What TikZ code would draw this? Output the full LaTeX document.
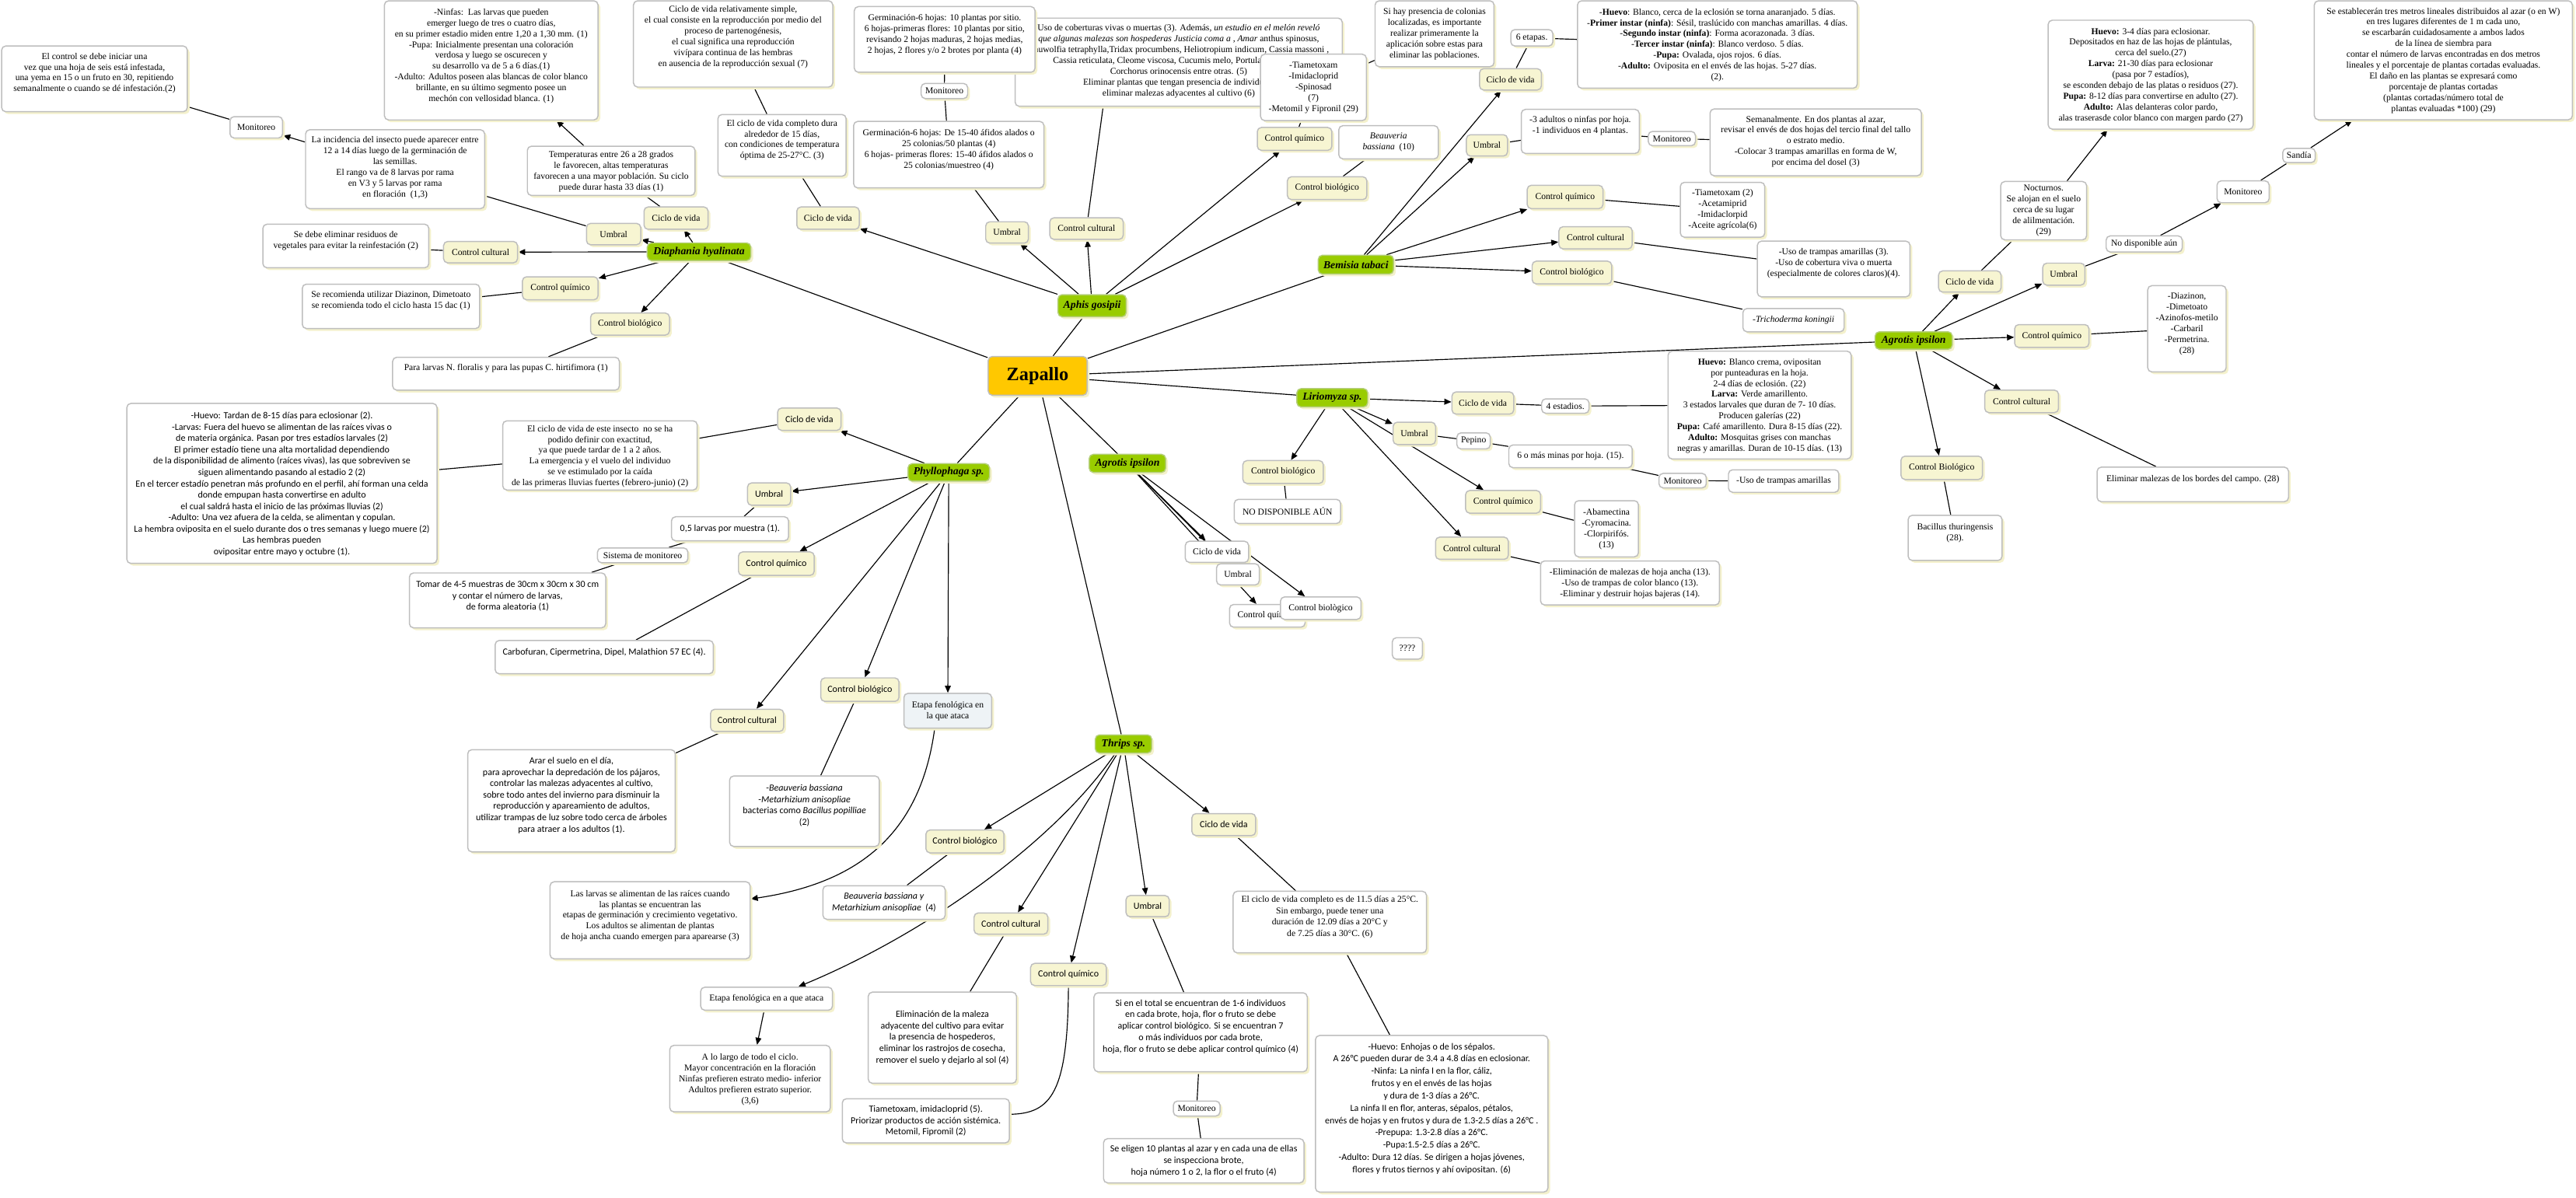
\documentclass[tikz,border=0pt]{standalone}
\usepackage{fontspec}
\setmainfont{Liberation Serif}
\setsansfont{Carlito}
\usetikzlibrary{fit,shadows,arrows.meta,backgrounds}
\definecolor{yelc}{HTML}{F7F5D2}
\definecolor{bordc}{HTML}{BEBEBE}
\definecolor{shadc}{HTML}{F4F1CC}
\definecolor{grnc}{HTML}{99CC00}
\definecolor{grnb}{HTML}{B5CF7A}
\definecolor{zapc}{HTML}{FFC800}
\definecolor{etac}{HTML}{EEF3F6}
\tikzset{
  lnk/.style={draw=black, line width=0.55pt},
  arw/.style={lnk, -{Triangle[length=4.3pt,width=3.6pt]}},
  boxbase/.style={rounded corners=2.5pt, draw=bordc, line width=0.7pt, inner sep=0pt,
     general shadow={fill=shadc, shadow xshift=1.4pt, shadow yshift=-1.4pt}},
  ybox/.style={boxbase, fill=yelc},
  wbox/.style={boxbase, fill=white},
  gbox/.style={boxbase, fill=grnc, draw=grnb},
  zbox/.style={boxbase, fill=zapc},
  ebox/.style={boxbase, fill=etac},
  ser/.style={font=\fontsize{5.5}{6.6}\selectfont},
  ser7/.style={font=\fontsize{5.5}{7.0}\selectfont},
  san/.style={font=\sffamily\fontsize{5.7}{6.9}\selectfont},
  san7/.style={font=\sffamily\fontsize{5.7}{7.0}\selectfont},
  san75/.style={font=\sffamily\fontsize{5.7}{7.5}\selectfont},
  gtxt/.style={font=\bfseries\itshape\fontsize{6.5}{7.5}\selectfont},
  zfont/.style={font=\bfseries\fontsize{11.5}{13}\selectfont},
}
\newcommand\TB[9][4]{%
  \node[#7, fit={(#3,#4)(#5,#6)}] (#2) {};
  \node[#8, anchor=north, align=center, inner sep=0pt] (#2t) at ({(#3+#5)/2},{#4+#1}) {#9};
}
\newcommand\CB[8]{%
  \node[#6, fit={(#2,#3)(#4,#5)}] (#1) {};
  \node[#7, align=center, inner sep=0pt] (#1t) at (#1.center) {#8};
}
\begin{document}
\begin{tikzpicture}[x=1pt,y=-1pt]
\useasboundingbox (0,0) rectangle (1568,729);
% ---------- central and species ----------
\CB{zap}{601.5}{217}{661.7}{240.6}{zbox}{zfont}{Zapallo}
\CB{dia}{394}{147.9}{457}{158.6}{gbox}{gtxt}{Diaphania hyalinata}
\CB{aph}{644}{179.4}{685.5}{192.8}{gbox}{gtxt}{Aphis gosipii}
\CB{bem}{802.4}{155.4}{848.2}{166.8}{gbox}{gtxt}{Bemisia tabaci}
\CB{agr}{1141.4}{202}{1188.3}{212.6}{gbox}{gtxt}{Agrotis ipsilon}
\CB{lir}{789.4}{236.6}{832.5}{247.7}{gbox}{gtxt}{Liriomyza sp.}
\CB{agm}{663}{276.6}{709.5}{287.6}{gbox}{gtxt}{Agrotis ipsilon}
\CB{phy}{552.7}{282.3}{602.3}{292.9}{gbox}{gtxt}{Phyllophaga sp.}
\CB{thr}{666.7}{447.4}{701}{458.4}{gbox}{gtxt}{Thrips sp.}
% ---------- Diaphania ----------
\TB{dEl}{1}{28}{114}{68}{wbox}{ser}{El control se debe iniciar una\\vez que una hoja de seis está infestada,\\una yema en 15 o un fruto en 30, repitiendo\\semanalmente o cuando se dé infestación.(2)}
\CB{dMon}{140}{71}{172}{84}{wbox}{ser}{Monitoreo}
\TB{dInc}{186}{79}{295}{127}{wbox}{ser}{La incidencia del insecto puede aparecer entre\\12 a 14 días luego de la germinación de\\las semillas.\\El rango va de 8 larvas por rama\\en V3 y 5 larvas por rama\\en floración~~(1,3)}
\CB{dUmb}{357}{136}{390}{149}{ybox}{ser}{Umbral}
\TB[4.5]{dNin}{234}{0.5}{364}{73}{wbox}{ser}{-Ninfas:~~Las larvas que pueden\\emerger luego de tres o cuatro días,\\en su primer estadio miden entre 1,20 a 1,30 mm. (1)\\-Pupa: Inicialmente presentan una coloración\\verdosa y luego se oscurecen y\\su desarrollo va de 5 a 6 días.(1)\\-Adulto: Adultos poseen alas blancas de color blanco\\brillante, en su último segmento posee un\\mechón con vellosidad blanca. (1)}
\TB[3]{dTem}{321}{89}{423}{119}{wbox}{ser}{Temperaturas entre 26 a 28 grados\\le favorecen, altas temperaturas\\favorecen a una mayor población. Su ciclo\\puede durar hasta 33 días (1)}
\CB{dCic}{392}{126}{431}{139.6}{ybox}{ser}{Ciclo de vida}
\TB{dRes}{160}{136.5}{261}{163}{wbox}{ser}{Se debe eliminar residuos de\\vegetales para evitar la reinfestación (2)}
\CB{dCC}{270}{147}{315}{160}{ybox}{ser}{Control cultural}
\CB{dCQ}{318}{168.5}{364}{182.5}{ybox}{ser}{Control químico}
\TB{dDia}{184}{173}{292}{200}{wbox}{ser}{Se recomienda utilizar Diazinon, Dimetoato\\se recomienda todo el ciclo hasta 15 dac (1)}
\CB{dCB}{359.5}{190.6}{407.5}{204}{ybox}{ser}{Control biológico}
\TB{dPar}{239}{217.5}{377}{237.5}{wbox}{ser}{Para larvas N. floralis y para las pupas C. hirtifimora (1)}
% ---------- Aphis ----------
\TB[3]{aRel}{385.6}{0.5}{506.9}{53}{wbox}{ser}{Ciclo de vida relativamente simple,\\el cual consiste en la reproducción por medio del\\proceso de partenogénesis,\\el cual significa una reproducción\\vivípara continua de las hembras\\en ausencia de la reproducción sexual (7)}
\TB[3]{aCom}{437}{69.7}{515}{107.3}{wbox}{ser}{El ciclo de vida completo dura\\alrededor de 15 días,\\con condiciones de temperatura\\óptima de 25-27°C. (3)}
\CB{aCic}{485}{126}{523}{139.6}{ybox}{ser}{Ciclo de vida}
\TB[3.8]{aUso}{617.9}{11}{817}{64.7}{wbox}{ser}{Uso de coberturas vivas o muertas (3). Además, \textit{un estudio en el melón reveló}\\\textit{que algunas malezas son hospederas Justicia coma a} , \textit{Amar} anthus spinosus,\\Rauwolfia tetraphylla,Tridax procumbens, Heliotropium indicum, Cassia massoni ,\\Cassia reticulata, Cleome viscosa, Cucumis melo, Portulaca oleracea,\\Corchorus orinocensis entre otras. (5)\\Eliminar plantas que tengan presencia de individuos,\\eliminar malezas adyacentes al cultivo (6)}
\TB[4.5]{aGt}{520}{4}{630}{44}{wbox}{ser}{Germinación-6 hojas: 10 plantas por sitio.\\6 hojas-primeras flores: 10 plantas por sitio,\\revisando 2 hojas maduras, 2 hojas medias,\\2 hojas, 2 flores y/o 2 brotes por planta (4)}
\CB{aMon}{560.7}{50.8}{589}{60}{wbox}{ser}{Monitoreo}
\TB[4.5]{aGl}{519.6}{73.9}{635.4}{114.4}{wbox}{ser}{Germinación-6 hojas: De 15-40 áfidos alados o\\25 colonias/50 plantas (4)\\6 hojas- primeras flores: 15-40 áfidos alados o\\25 colonias/muestreo (4)}
\CB{aUmb}{600}{135}{626}{148}{ybox}{ser}{Umbral}
\CB{aCC}{639}{132.6}{683.7}{145.7}{ybox}{ser}{Control cultural}
\TB[4.5]{aTia}{767.3}{33}{831.7}{73.4}{wbox}{ser}{-Tiametoxam\\-Imidacloprid\\-Spinosad\\(7)\\-Metomil y Fipronil (29)}
\CB{aCQ}{765.3}{77.6}{810.7}{91.5}{ybox}{ser}{Control químico}
\TB[4]{aBea}{814.9}{76.5}{875.5}{96.7}{wbox}{ser}{\textit{Beauveria}\\\textit{bassiana}~~(10)}
\CB{aCB}{783.6}{107.6}{832}{121.5}{ybox}{ser}{Control biológico}
\TB[4.2]{aSi}{837}{0.5}{909.4}{40.6}{wbox}{ser}{Si hay presencia de colonias\\localizadas, es importante\\realizar primeramente la\\aplicación sobre estas para\\eliminar las poblaciones.}
% ---------- Bemisia ----------
\CB{bCic}{900.6}{41.8}{938.2}{54.8}{ybox}{ser}{Ciclo de vida}
\CB{b6}{919.6}{18}{945.2}{28}{wbox}{ser}{6 etapas.}
\TB[4.5]{bHue}{960.2}{0.5}{1130.5}{53.7}{wbox}{ser}{-\textbf{Huevo}: Blanco, cerca de la eclosión se torna anaranjado. 5 días.\\-\textbf{Primer instar (ninfa)}: Sésil, traslúcido con manchas amarillas. 4 días.\\-\textbf{Segundo instar (ninfa)}: Forma acorazonada. 3 días.\\-\textbf{Tercer instar (ninfa)}: Blanco verdoso. 5 días.\\-\textbf{Pupa:} Ovalada, ojos rojos. 6 días.\\-\textbf{Adulto:} Oviposita en el envés de las hojas. 5-27 días.\\(2).}
\CB{bUmb}{892.6}{82}{917.6}{95}{ybox}{ser}{Umbral}
\TB[4]{b3a}{926}{66.6}{997.8}{93.4}{wbox}{ser}{-3 adultos o ninfas por hoja.\\-1 individuos en 4 plantas.}
\CB{bMon}{1003.3}{80}{1032}{88.7}{wbox}{ser}{Monitoreo}
\TB[4]{bSem}{1040.9}{66.3}{1169.5}{107}{wbox}{ser}{Semanalmente. En dos plantas al azar,\\revisar el envés de dos hojas del tercio final del tallo\\o estrato medio.\\-Colocar 3 trampas amarillas en forma de W,\\por encima del dosel (3)}
\CB{bCQ}{929.6}{112.8}{975.7}{127}{ybox}{ser}{Control químico}
\TB[4]{bTia}{1022.8}{111}{1074.2}{144.4}{wbox}{ser}{-Tiametoxam (2)\\-Acetamiprid\\-Imidaclorpid\\-Aceite agrícola(6)}
\CB{bCC}{948.9}{138}{993.5}{151.5}{ybox}{ser}{Control cultural}
\TB[4]{bUso}{1069.7}{146.8}{1162.6}{180.7}{wbox}{ser}{-Uso de trampas amarillas (3).\\-Uso de cobertura viva o muerta\\(especialmente de colores claros)(4).}
\CB{bCB}{932.6}{159}{981}{172.8}{ybox}{ser}{Control biológico}
\CB{bTri}{1060.9}{187.8}{1122.5}{202}{wbox}{ser}{-\textit{Trichoderma koningii}}
% ---------- Agrotis (right) ----------
\TB[4.5]{rHue}{1246.7}{12.3}{1371.5}{78.6}{wbox}{ser}{\textbf{Huevo:} 3-4 días para eclosionar.\\Depositados en haz de las hojas de plántulas,\\cerca del suelo.(27)\\\textbf{Larva:} 21-30 días para eclosionar\\(pasa por 7 estadíos),\\se esconden debajo de las platas o residuos (27).\\\textbf{Pupa:} 8-12 días para convertirse en adulto (27).\\\textbf{Adulto:} Alas delanteras color pardo,\\alas traserasde color blanco con margen pardo (27)}
\TB[1.8]{rNoc}{1217.8}{110.5}{1270.1}{146}{wbox}{ser}{Nocturnos.\\Se alojan en el suelo\\cerca de su lugar\\de alilmentación.\\(29)}
\CB{rCic}{1180}{164.9}{1218}{177.8}{ybox}{ser}{Ciclo de vida}
\CB{rUmb}{1243.4}{160.2}{1269}{173.6}{ybox}{ser}{Umbral}
\CB{rNo}{1282}{143.6}{1328.3}{153.4}{wbox}{ser}{No disponible aún}
\CB{rMon}{1349.5}{110.1}{1381.2}{123.4}{wbox}{ser}{Monitoreo}
\CB{rSan}{1389.5}{90.3}{1409.3}{99}{wbox}{ser}{Sandía}
\TB[4]{rSe}{1408.7}{0.5}{1565.8}{72.9}{wbox}{ser}{Se establecerán tres metros lineales distribuidos al azar (o en W)\\en tres lugares diferentes de 1 m cada uno,\\se escarbarán cuidadosamente a ambos lados\\de la línea de siembra para\\contar el número de larvas encontradas en dos metros\\lineales y el porcentaje de plantas cortadas evaluadas.\\El daño en las plantas se expresará como\\porcentaje de plantas cortadas\\(plantas cortadas/número total de\\plantas evaluadas *100) (29)}
\CB{rCQ}{1226.3}{197.6}{1271.5}{211.5}{ybox}{ser}{Control químico}
\TB[4.2]{rDia}{1307.3}{173.9}{1355}{226.4}{wbox}{ser}{-Diazinon,\\-Dimetoato\\-Azinofos-metilo\\-Carbaril\\-Permetrina.\\(28)}
\CB{rCC}{1208.1}{237.5}{1253}{251.2}{ybox}{ser}{Control cultural}
\TB[5]{rEli}{1276.5}{284.4}{1393}{305.4}{wbox}{ser}{Eliminar malezas de los bordes del campo. (28)}
\CB{rCB}{1157.1}{277.7}{1206.7}{291.9}{ybox}{ser}{Control Biológico}
\TB[5]{rBac}{1161.5}{313.7}{1218.6}{341.2}{wbox}{ser}{Bacillus thuringensis\\(28).}
% ---------- Liriomyza ----------
\TB[4.2]{lHue}{1015.3}{213.8}{1126.8}{279.4}{wbox}{ser}{\textbf{Huevo:} Blanco crema, ovipositan\\por punteaduras en la hoja.\\2-4 días de eclosión. (22)\\\textbf{Larva:} Verde amarillento.\\3 estados larvales que duran de 7- 10 días.\\Producen galerías (22)\\\textbf{Pupa:} Café amarillento. Dura 8-15 días (22).\\\textbf{Adulto:} Mosquitas grises con manchas\\negras y amarillas. Duran de 10-15 días. (13)}
\CB{lCic}{883.8}{238.6}{921.4}{252.1}{ybox}{ser}{Ciclo de vida}
\CB{l4}{938.4}{242.8}{967.2}{251.6}{wbox}{ser}{4 estadios.}
\CB{lUmb}{848}{257}{873.8}{270.6}{ybox}{ser}{Umbral}
\CB{lPep}{886.8}{263.5}{907.1}{273.3}{wbox}{ser}{Pepino}
\CB{l6}{918.4}{270.9}{993.5}{284.7}{wbox}{ser}{6 o más minas por hoja. (15).}
\CB{lMon}{1009.8}{288.2}{1038.6}{297}{wbox}{ser}{Monitoreo}
\CB{lUso}{1052.1}{286}{1119.3}{299.7}{wbox}{ser}{-Uso de trampas amarillas}
\CB{lCQ}{892.1}{298.6}{937.7}{312.4}{ybox}{ser}{Control químico}
\TB[4.7]{lAba}{958.4}{304.8}{997.3}{339}{wbox}{ser}{-Abamectina\\-Cyromacina.\\-Clorpirifós.\\(13)}
\CB{lCC}{873.8}{327}{918.1}{340.5}{ybox}{ser}{Control cultural}
\TB[4.4]{lEli}{937.7}{341.5}{1046.6}{368.3}{wbox}{ser}{-Eliminación de malezas de hoja ancha (13).\\-Uso de trampas de color blanco (13).\\-Eliminar y destruir hojas bajeras (14).}
\CB{lCB}{756.5}{280.4}{805.5}{294.3}{ybox}{ser}{Control biológico}
\CB{lNo}{751.3}{304}{816}{318.7}{wbox}{ser}{NO DISPONIBLE AÚN}
% ---------- Agrotis (middle) ----------
\CB{mCic}{721.5}{329.5}{760}{342.4}{wbox}{ser}{Ciclo de vida}
\CB{mUmb}{740.5}{343.2}{766.5}{356.1}{wbox}{ser}{Umbral}
\CB{mCQ}{748.4}{368}{794.4}{381.8}{wbox}{ser}{Control químico}
\CB{mCB}{779.4}{363.4}{828.4}{377.1}{wbox}{ser}{Control biològico}
\CB{q}{847.5}{388.2}{865.8}{401.3}{wbox}{ser}{????}
% ---------- Phyllophaga ----------
\TB[4.9]{pHue}{77.2}{245.6}{266}{343}{wbox}{san}{-Huevo: Tardan de 8-15 días para eclosionar (2).\\-Larvas: Fuera del huevo se alimentan de las raíces vivas o\\de materia orgánica. Pasan por tres estadíos larvales (2)\\El primer estadío tiene una alta mortalidad dependiendo\\de la disponibilidad de alimento (raíces vivas), las que sobreviven se\\siguen alimentando pasando al estadio 2 (2)\\En el tercer estadío penetran más profundo en el perfil, ahí forman una celda\\donde empupan hasta convertirse en adulto\\el cual saldrá hasta el inicio de las próximas lluvias (2)\\-Adulto: Una vez afuera de la celda, se alimentan y copulan.\\La hembra oviposita en el suelo durante dos o tres semanas y luego muere (2)\\Las hembras pueden\\ovipositar entre mayo y octubre (1).}
\TB[2.5]{pEl}{306}{256.2}{424.4}{298.3}{wbox}{ser}{El ciclo de vida de este insecto~~no se ha\\podido definir con exactitud,\\ya que puede tardar de 1 a 2 años.\\La emergencia y el vuelo del individuo\\se ve estimulado por la caída\\de las primeras lluvias fuertes (febrero-junio) (2)}
\CB{pCic}{473.3}{248.4}{511.9}{262}{ybox}{san}{Ciclo de vida}
\CB{pUmb}{455}{294}{481.3}{307.6}{ybox}{san}{Umbral}
\CB{p05}{408.7}{314.6}{480}{329.2}{wbox}{san}{0,5 larvas por muestra (1).}
\CB{pSis}{363.7}{333.6}{418.7}{342.6}{wbox}{ser}{Sistema de monitoreo}
\TB[4.7]{pTom}{249.2}{348.8}{368.7}{382.2}{wbox}{san}{Tomar de 4-5 muestras de 30cm x 30cm x 30 cm\\y contar el número de larvas,\\de forma aleatoria (1)}
\CB{pCQ}{449.5}{336}{495.6}{350.3}{ybox}{san}{Control químico}
\TB[4.7]{pCar}{301.4}{389.9}{434.2}{410.2}{wbox}{san}{Carbofuran, Cipermetrina, Dipel, Malathion 57 EC (4).}
\CB{pCC}{432.5}{431.8}{477}{445.3}{ybox}{san}{Control cultural}
\TB[4.5]{pArar}{284.7}{456.4}{411}{518.6}{wbox}{san}{Arar el suelo en el día,\\para aprovechar la depredación de los pájaros,\\controlar las malezas adyacentes al cultivo,\\sobre todo antes del invierno para disminuir la\\reproducción y apareamiento de adultos,\\utilizar trampas de luz sobre todo cerca de árboles\\para atraer a los adultos (1).}
\CB{pCB}{499.6}{412.7}{547.2}{427}{ybox}{san}{Control biológico}
\TB[5]{pBea}{444.1}{472.4}{535.2}{515.3}{wbox}{san}{-\textit{Beauveria bassiana}\\-\textit{Metarhizium anisopliae}\\bacterias como \textit{Bacillus popilliae}\\(2)}
\CB{pEta}{550.2}{422.1}{603.6}{443.3}{ebox}{ser}{Etapa fenológica en\\la que ataca}
\TB[4.9]{pLas}{334.8}{536.8}{456.6}{583.7}{wbox}{ser}{Las larvas se alimentan de las raíces cuando\\las plantas se encuentran las\\etapas de germinación y crecimiento vegetativo.\\Los adultos se alimentan de plantas\\de hoja ancha cuando emergen para aparearse (3)}
% ---------- Thrips ----------
\CB{tCB}{563.6}{505.3}{611.1}{519.2}{ybox}{san}{Control biológico}
\CB{tBea}{500.9}{539.2}{575.3}{559.7}{wbox}{san}{\textit{Beauveria bassiana y}\\\textit{Metarhizium anisopliae}~~(4)}
\CB{tEta}{426.5}{601}{506.7}{615}{wbox}{ser}{Etapa fenológica en a que ataca}
\TB[5]{tAlo}{407.7}{636.4}{505.4}{676.9}{wbox}{ser}{A lo largo de todo el ciclo.\\Mayor concentración en la floración\\Ninfas prefieren estrato medio- inferior\\Adultos prefieren estrato superior.\\(3,6)}
\CB{tCC}{592.9}{555.8}{637.8}{568.7}{ybox}{san}{Control cultural}
\CB{tEli}{528.5}{604}{618.7}{659.5}{wbox}{san}{Eliminación de la maleza\\adyacente del cultivo para evitar\\la presencia de hospederos,\\eliminar los rastrojos de cosecha,\\remover el suelo y dejarlo al sol (4)}
\CB{tCQ}{627.3}{586.5}{673.4}{600}{ybox}{san}{Control químico}
\CB{tTia}{512.7}{668.9}{614.4}{695.8}{wbox}{san}{Tiametoxam, imidacloprid (5).\\Priorizar productos de acción sistémica.\\Metomil, Fipromil (2)}
\CB{tUmb}{685.4}{545.2}{711.7}{558.1}{ybox}{san}{Umbral}
\TB[3.9]{tSi}{665.9}{604.4}{795.7}{652.5}{wbox}{san7}{Si en el total se encuentran de 1-6 individuos\\en cada brote, hoja, flor o fruto se debe\\aplicar control biológico. Si se encuentran 7\\o más individuos por cada brote,\\hoja, flor o fruto se debe aplicar control químico (4)}
\CB{tMon}{714.2}{670.3}{742.6}{679.4}{wbox}{ser}{Monitoreo}
\TB[3.9]{tSe}{671.7}{693.2}{793.7}{720.1}{wbox}{san7}{Se eligen 10 plantas al azar y en cada una de ellas\\se inspecciona brote,\\hoja número 1 o 2, la flor o el fruto (4)}
\CB{tCic}{725.5}{495.3}{764.3}{508.7}{ybox}{san}{Ciclo de vida}
\TB[2.5]{tElc}{750.6}{542.6}{868.3}{580.1}{wbox}{ser7}{El ciclo de vida completo es de 11.5 días a 25°C.\\Sin embargo, puede tener una\\duración de 12.09 días a 20°C y\\de 7.25 días a 30°C. (6)}
\TB[4.4]{tHue}{800.7}{630.4}{942.2}{725.7}{wbox}{san75}{-Huevo: Enhojas o de los sépalos.\\A 26°C pueden durar de 3.4 a 4.8 días en eclosionar.\\-Ninfa: La ninfa I en la flor, cáliz,\\frutos y en el envés de las hojas\\y dura de 1-3 días a 26°C.\\La ninfa II en flor, anteras, sépalos, pétalos,\\envés de hojas y en frutos y dura de 1.3-2.5 días a 26°C .\\-Prepupa: 1.3-2.8 días a 26°C.\\-Pupa:1.5-2.5 días a 26°C.\\-Adulto: Dura 12 días. Se dirigen a hojas jóvenes,\\flores y frutos tiernos y ahí ovipositan. (6)}
% ---------- connectors ----------
\begin{scope}[on background layer]
\fill[white] (0,0) rectangle (1568,729);
\foreach \s in {dia,aph,bem,agr,lir,agm,phy,thr} \draw[lnk] (zap) -- (\s);
% Diaphania
\foreach \t in {dUmb,dCic,dCC,dCQ,dCB} \draw[arw] (dia) -- (\t);
\draw[lnk] (dEl) -- (dMon);
\draw[arw] (dInc) -- (dMon);
\draw[lnk] (dInc) -- (dUmb);
\draw[arw] (dTem) -- (dNin);
\draw[lnk] (dTem) -- (dCic);
\draw[lnk] (dRes) -- (dCC);
\draw[lnk] (dDia) -- (dCQ);
\draw[lnk] (dCB) -- (dPar);
% Aphis
\foreach \t in {aCic,aUmb,aCC,aCQ,aCB} \draw[arw] (aph) -- (\t);
\draw[lnk] (aRel) -- (aCom);
\draw[lnk] (aCom) -- (aCic);
\draw[lnk] (aGt) -- (aMon);
\draw[lnk] (aMon) -- (aGl);
\draw[lnk] (aGl) -- (aUmb);
\draw[lnk] (aCC) -- ([xshift=-46pt]aUso.south);
\draw[lnk] (aCQ) -- (aTia);
\draw[lnk] (aTia) -- (aSi);
\draw[lnk] (aCB) -- (aBea);
% Bemisia
\foreach \t in {bCic,bUmb,bCQ,bCC,bCB} \draw[arw] (bem) -- (\t);
\draw[lnk] (bCic) -- (b6);
\draw[lnk] (b6) -- (bHue);
\draw[lnk] (bUmb) -- (b3a);
\draw[lnk] (b3a) -- (bMon);
\draw[lnk] (bMon) -- (bSem);
\draw[lnk] (bCQ) -- (bTia);
\draw[lnk] (bCC) -- (bUso);
\draw[lnk] (bCB) -- (bTri);
% Agrotis right
\foreach \t in {rCic,rUmb,rCQ,rCC,rCB} \draw[arw] (agr) -- (\t);
\draw[lnk] (rCic) -- (rNoc);
\draw[arw] (rNoc) -- (rHue);
\draw[lnk] (rUmb) -- (rNo);
\draw[arw] (rNo) -- (rMon);
\draw[lnk] (rMon) -- (rSan);
\draw[arw] (rSan) -- (rSe);
\draw[lnk] (rCQ) -- (rDia);
\draw[lnk] (rCC) -- (rEli);
\draw[lnk] (rCB) -- (rBac);
% Liriomyza
\foreach \t in {lCic,lUmb,lCQ,lCC,lCB} \draw[arw] (lir) -- (\t);
\draw[lnk] (lCic) -- (l4);
\draw[lnk] (l4) -- (lHue);
\draw[lnk] (lUmb) -- (lPep);
\draw[lnk] (lPep) -- (l6);
\draw[lnk] (l6) -- (lMon);
\draw[lnk] (lMon) -- (lUso);
\draw[lnk] (lCQ) -- (lAba);
\draw[lnk] (lCC) -- (lEli);
\draw[lnk] (lCB) -- (lNo);
% Agrotis middle
\foreach \t in {mCic,mUmb,mCQ,mCB} \draw[arw] (agm) -- (\t);
% Phyllophaga
\foreach \t in {pCic,pUmb,pCQ,pCC,pCB,pEta} \draw[arw] (phy) -- (\t);
\draw[lnk] (pHue) -- (pEl);
\draw[lnk] (pEl) -- (pCic);
\draw[lnk] (pUmb) -- (p05);
\draw[lnk] (p05) -- (pSis);
\draw[lnk] (pSis) -- (pTom);
\draw[lnk] (pCQ) -- (pCar);
\draw[lnk] (pCC) -- (pArar);
\draw[lnk] (pCB) -- (pBea);
\draw[arw] ([xshift=-8pt]pEta.south) .. controls (560,510) and (520,538) .. ([yshift=13pt]pLas.east);
% Thrips
\foreach \t in {tCB,tCC,tCQ,tUmb,tCic} \draw[arw] (thr) -- (\t);
\draw[arw] ([xshift=12.5pt]thr.south west) .. controls (640,515) and (560,570) .. ([xshift=19.4pt]tEta.north);
\draw[lnk] (tCB) -- (tBea);
\draw[arw] (tEta) -- (tAlo);
\draw[lnk] (tCC) -- (tEli);
\draw[lnk] (tCQ.south) .. controls (650,665) and (640,678) .. ([yshift=4pt]tTia.east);
\draw[lnk] (tUmb) -- (tSi);
\draw[lnk] (tSi) -- (tMon);
\draw[lnk] (tMon) -- (tSe);
\draw[lnk] (tCic) -- (tElc);
\draw[lnk] (tElc) -- (tHue);
\end{scope}
\end{tikzpicture}
\end{document}
